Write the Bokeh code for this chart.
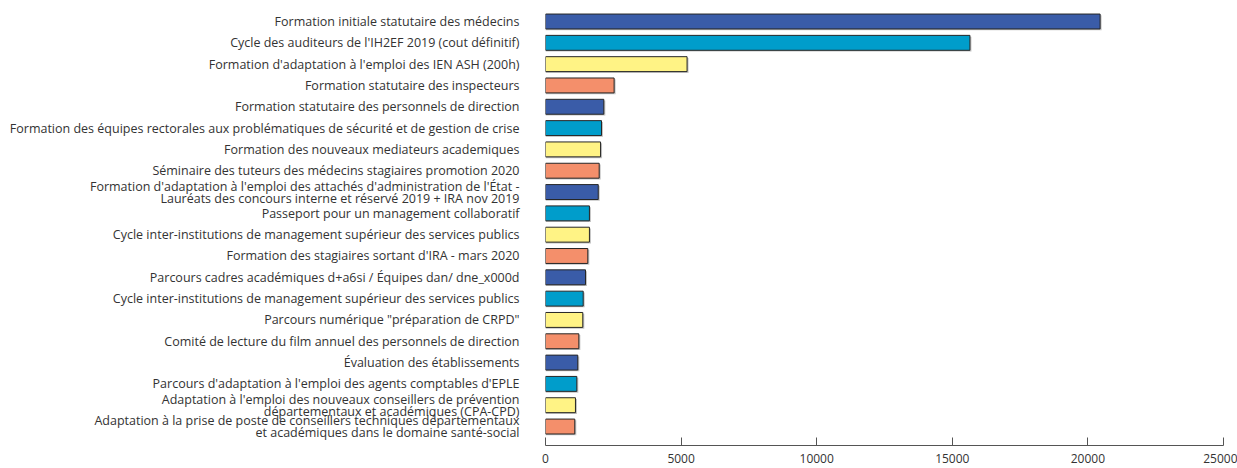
from bokeh.plotting import figure
from bokeh.models import Range1d, FixedTicker, ColumnDataSource
from bokeh.embed import file_html
from bokeh.resources import INLINE

labels = [
    "Formation initiale statutaire des médecins",
    "Cycle des auditeurs de l'IH2EF 2019 (cout définitif)",
    "Formation d'adaptation à l'emploi des IEN ASH (200h)",
    "Formation statutaire des inspecteurs",
    "Formation statutaire des personnels de direction",
    "Formation des équipes rectorales aux problématiques de sécurité et de gestion de crise",
    "Formation des nouveaux mediateurs academiques",
    "Séminaire des tuteurs des médecins stagiaires promotion 2020",
    "Formation d'adaptation à l'emploi des attachés d'administration de l'État -\nLauréats des concours interne et réservé 2019 + IRA nov 2019",
    "Passeport pour un management collaboratif",
    "Cycle inter-institutions de management supérieur des services publics",
    "Formation des stagiaires sortant d'IRA - mars 2020",
    "Parcours cadres académiques d+a6si / Équipes dan/ dne_x000d",
    "Cycle inter-institutions de management supérieur des services publics",
    "Parcours numérique \"préparation de CRPD\"",
    "Comité de lecture du film annuel des personnels de direction",
    "Évaluation des établissements",
    "Parcours d'adaptation à l'emploi des agents comptables d'EPLE",
    "Adaptation à l'emploi des nouveaux conseillers de prévention\ndépartementaux et académiques (CPA-CPD)",
    "Adaptation à la prise de poste de conseillers techniques départementaux\net académiques dans le domaine santé-social",
]
values = [20450, 15650, 5220, 2530, 2150, 2065, 2030, 1980, 1945, 1620,
          1620, 1560, 1475, 1390, 1375, 1230, 1190, 1155, 1105, 1080]
palette = ["#3a5ca8", "#009dcb", "#fff385", "#f48f6b"]
x_ticks = [0, 5000, 10000, 15000, 20000, 25000]

n = len(labels)
ypos = [n - 1 - i for i in range(n)]
colors = [palette[i % 4] for i in range(n)]

# tick label positions (two-line labels split around the bar centre)
LINE_GAP = 0.28
tick_pos = []
overrides = {}
for y, lab in zip(ypos, labels):
    lines = lab.split("\n")
    if len(lines) == 1:
        tick_pos.append(y)
        overrides[y] = lab
    else:
        for k, line in enumerate(lines):
            t = round(y + LINE_GAP * (len(lines) - 1) - 2 * LINE_GAP * k, 3)
            tick_pos.append(t)
            overrides[t] = line

src = ColumnDataSource(dict(y=ypos, v=values, c=colors,
                            ys=[y - 0.06 for y in ypos],
                            vs=[v + 55 for v in values]))

p = figure(width=1237, height=468, output_backend="svg", toolbar_location=None,
           x_range=Range1d(0, 25000), y_range=Range1d(-0.89, n - 1 + 0.61),
           min_border_left=545, min_border_right=14, min_border_top=8,
           min_border_bottom=23)

p.hbar(y="ys", left=0, right="vs", height=0.7, fill_color="#9a9a9a",
       fill_alpha=0.6, line_color=None, source=src)
p.hbar(y="y", left=0, right="v", height=0.7, fill_color="c",
       line_color="#262626", line_width=1, source=src)

p.grid.visible = False
p.outline_line_color = None

ya = p.yaxis[0]
ya.ticker = FixedTicker(ticks=tick_pos)
ya.major_label_overrides = overrides
ya.axis_line_color = None
ya.major_tick_line_color = None
ya.major_tick_in = 0
ya.major_tick_out = 0
ya.minor_tick_line_color = None
ya.major_label_standoff = 26
ya.major_label_text_font = "Open Sans"
ya.major_label_text_font_size = "12.5px"
ya.major_label_text_color = "#333333"

xa = p.xaxis[0]
xa.ticker = FixedTicker(ticks=x_ticks)
xa.axis_line_color = "#555555"
xa.major_tick_line_color = "#555555"
xa.major_tick_in = 8
xa.major_tick_out = 0
xa.minor_tick_line_color = None
xa.major_label_standoff = 8
xa.major_label_text_font = "Open Sans"
xa.major_label_text_font_size = "12px"
xa.major_label_text_color = "#333333"

open("out.html", "w").write(file_html(p, INLINE))
